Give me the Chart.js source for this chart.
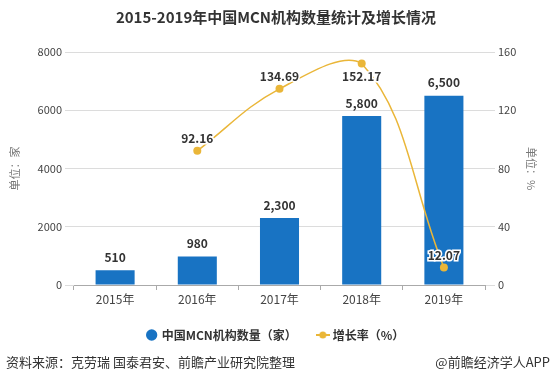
<!DOCTYPE html>
<html>
<head>
<meta charset="utf-8">
<script src="https://cdn.jsdelivr.net/npm/chart.js@4/dist/chart.umd.min.js"></script>
<style>
  html, body { margin: 0; padding: 0; background: #fff; }
  #wrap { width: 552px; height: 385px; position: relative; }
</style>
</head>
<body>
<div id="wrap"><canvas id="chart"></canvas></div>
<script>
// --- DATA ---
const years = ["2015年", "2016年", "2017年", "2018年", "2019年"];
const mcnCount = [510, 980, 2300, 5800, 6500];
const growthRate = [null, 92.16, 134.69, 152.17, 12.07];
const leftTicks = [0, 2000, 4000, 6000, 8000];
const rightTicks = [0, 40, 80, 120, 160];

const BAR_COLOR = "#1873c3";
const LINE_COLOR = "#eab638";
const TEXT_COLOR = "#333";

Chart.defaults.font.family = "'Noto Sans CJK SC', 'Noto Sans', sans-serif";

// small legend marker for the line series: a short line with a dot
function lineMarker() {
  const c = document.createElement("canvas");
  c.width = 14;
  c.height = 8;
  const g = c.getContext("2d");
  g.strokeStyle = LINE_COLOR;
  g.lineWidth = 2;
  g.beginPath();
  g.moveTo(0, 4);
  g.lineTo(14, 4);
  g.stroke();
  g.fillStyle = LINE_COLOR;
  g.beginPath();
  g.arc(7, 4, 3.5, 0, Math.PI * 2);
  g.fill();
  return c;
}

// value labels above bars and near line points
const valueLabels = {
  id: "valueLabels",
  afterDatasetsDraw(chart, args, opts) {
    const ctx = chart.ctx;
    ctx.save();
    ctx.textAlign = "center";
    ctx.textBaseline = "middle";
    ctx.font = "bold 12px 'Noto Sans CJK SC', sans-serif";

    chart.getDatasetMeta(0).data.forEach((bar, i) => {
      ctx.fillStyle = TEXT_COLOR;
      ctx.fillText(mcnCount[i].toLocaleString("en-US"), bar.x, bar.y - 13);
    });

    chart.getDatasetMeta(1).data.forEach((pt, i) => {
      const v = growthRate[i];
      if (v === null) return;
      const below = opts.below.includes(i);
      const y = below ? pt.y + 13 : pt.y - 12;
      ctx.lineWidth = 3;
      ctx.strokeStyle = "#fff";
      ctx.strokeText(v.toFixed(2), pt.x, y);
      ctx.fillStyle = TEXT_COLOR;
      ctx.fillText(v.toFixed(2), pt.x, y);
    });
    ctx.restore();
  },
};

// source note at the bottom
const footer = {
  id: "footer",
  afterDraw(chart) {
    const ctx = chart.ctx;
    ctx.save();
    ctx.font = "13px 'Noto Sans CJK SC', sans-serif";
    ctx.fillStyle = TEXT_COLOR;
    ctx.textBaseline = "middle";
    ctx.textAlign = "left";
    ctx.fillText("资料来源：克劳瑞 国泰君安、前瞻产业研究院整理", 6, 362);
    ctx.textAlign = "right";
    ctx.fillText("@前瞻经济学人APP", 550, 362);
    ctx.restore();
  },
};

new Chart(document.getElementById("chart"), {
  data: {
    labels: years,
    datasets: [
      {
        type: "bar",
        label: "中国MCN机构数量（家）",
        data: mcnCount,
        backgroundColor: BAR_COLOR,
        yAxisID: "y",
        barPercentage: 0.95,
        categoryPercentage: 0.5,
        order: 1,
      },
      {
        type: "line",
        label: "增长率（%）",
        data: growthRate,
        borderColor: LINE_COLOR,
        backgroundColor: LINE_COLOR,
        borderWidth: 1.5,
        pointRadius: 4,
        pointBackgroundColor: LINE_COLOR,
        pointBorderWidth: 0,
        tension: 0.4,
        yAxisID: "y1",
        order: 0,
      },
    ],
  },
  options: {
    responsive: true,
    maintainAspectRatio: false,
    animation: false,
    layout: { padding: { top: 0, bottom: 34 } },
    scales: {
      x: {
        grid: { drawOnChartArea: false, tickLength: 5, color: "#aaa" },
        border: { color: "#aaa" },
        ticks: { color: "#444", font: { size: 12 }, padding: 2 },
        afterFit: (s) => { s.height = 22; },
      },
      y: {
        position: "left",
        min: 0,
        max: 8000,
        afterBuildTicks: (s) => { s.ticks = leftTicks.map((v) => ({ value: v })); },
        grid: { color: "#dcdcdc", tickLength: 9 },
        border: { display: false },
        ticks: { color: "#444", font: { size: 11 }, padding: 3, callback: (v) => String(v) },
        title: { display: true, text: "单位：家", color: "#777", font: { size: 11 }, padding: { top: 8, bottom: 2 } },
        afterFit: (s) => { s.width = 74; },
      },
      y1: {
        position: "right",
        min: 0,
        max: 160,
        afterBuildTicks: (s) => { s.ticks = rightTicks.map((v) => ({ value: v })); },
        grid: { drawOnChartArea: false, color: "#dcdcdc", tickLength: 10 },
        border: { display: false },
        ticks: { color: "#444", font: { size: 11 }, padding: 3, callback: (v) => String(v) },
        title: { display: true, text: "单位：%", color: "#777", font: { size: 11 }, padding: { top: 14, bottom: 2 } },
        afterFit: (s) => { s.width = 67; },
      },
    },
    plugins: {
      title: {
        display: true,
        text: "2015-2019年中国MCN机构数量统计及增长情况",
        color: TEXT_COLOR,
        font: { size: 15, weight: "bold" },
        padding: { top: 8, bottom: 26 },
      },
      legend: {
        position: "bottom",
        labels: {
          usePointStyle: true,
          boxWidth: 8,
          boxHeight: 8,
          padding: 22,
          color: TEXT_COLOR,
          font: { size: 12, weight: "bold" },
          generateLabels: (chart) =>
            chart.data.datasets.map((ds, i) => ({
              text: ds.label,
              datasetIndex: i,
              fillStyle: i === 0 ? BAR_COLOR : LINE_COLOR,
              strokeStyle: i === 0 ? BAR_COLOR : LINE_COLOR,
              lineWidth: 0,
              pointStyle: i === 0 ? "circle" : lineMarker(),
              fontColor: TEXT_COLOR,
              hidden: false,
            })),
        },
      },
      tooltip: { enabled: false },
      valueLabels: { below: [3] },
    },
  },
  plugins: [valueLabels, footer],
});
</script>
</body>
</html>
